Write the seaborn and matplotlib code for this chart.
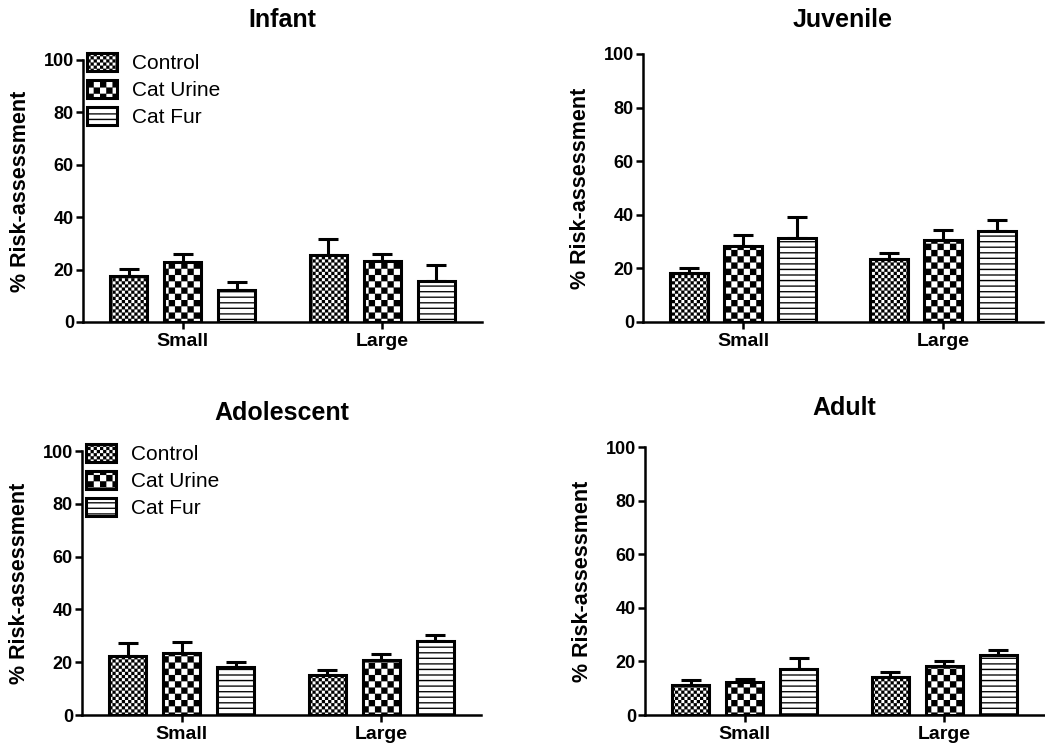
import warnings
import numpy as np
import pandas as pd
import matplotlib
matplotlib.use("Agg")
import matplotlib.pyplot as plt
import matplotlib.hatch as mhatch
from matplotlib.path import Path
import seaborn as sns

warnings.filterwarnings("ignore")

# ---------------------------------------------------------------- data
sizes = ["Small", "Large"]
treatments = ["Control", "Cat Urine", "Cat Fur"]

# rows: Control, Cat Urine, Cat Fur ; columns: Small, Large
infant_mean = [[17.6, 25.5], [22.8, 23.3], [12.4, 15.5]]
infant_sem = [[2.7, 6.3], [3.0, 2.7], [3.0, 6.4]]

juvenile_mean = [[18.2, 23.4], [28.2, 30.5], [31.2, 33.8]]
juvenile_sem = [[2.1, 2.2], [4.4, 4.0], [7.8, 4.1]]

adolescent_mean = [[22.4, 15.0], [23.6, 20.8], [18.3, 28.1]]
adolescent_sem = [[4.8, 2.1], [4.0, 2.4], [1.8, 2.2]]

adult_mean = [[11.3, 14.0], [12.5, 18.1], [17.3, 22.4]]
adult_sem = [[1.8, 2.0], [1.1, 2.1], [3.9, 2.0]]


# ---------------------------------------------------------------- fill patterns
class TileHatch(mhatch.HatchPatternBase):
    """Filled tile hatches: 'c' fine checkerboard, 'k' coarse checkerboard,
    'h' thin horizontal stripes."""

    def __init__(self, hatch, density):
        rects = []
        for ch, n in (("c", 32), ("k", 16)):
            if ch in hatch:
                for i in range(n):
                    for j in range(n):
                        if (i + j) % 2 == 0:
                            rects.append((i / n, j / n, (i + 1) / n, (j + 1) / n))
        if "h" in hatch:
            n, t = 18, 0.012
            for j in range(n):
                y = (j + 0.5) / n
                rects.append((0.0, y - t / 2, 1.0, y + t / 2))
        self.rects = rects
        self.num_vertices = 5 * len(rects)

    def set_vertices_and_codes(self, vertices, codes):
        for k, (x0, y0, x1, y1) in enumerate(self.rects):
            vertices[5 * k:5 * k + 5] = [(x0, y0), (x1, y0), (x1, y1), (x0, y1), (x0, y0)]
            codes[5 * k:5 * k + 5] = [Path.MOVETO, Path.LINETO, Path.LINETO,
                                      Path.LINETO, Path.CLOSEPOLY]


mhatch._hatch_types.append(TileHatch)
hatches = ["c", "k", "h"]

# ---------------------------------------------------------------- style
sns.set_style("ticks", rc={
    "text.color": "black",
    "axes.labelcolor": "black",
    "axes.edgecolor": "black",
    "xtick.color": "black",
    "ytick.color": "black",
})
plt.rcParams["font.family"] = ["Liberation Sans", "DejaVu Sans"]
plt.rcParams["hatch.linewidth"] = 0.1
plt.rcParams["hatch.color"] = "black"

fig = plt.figure(figsize=(10.45, 7.51), dpi=100)

W, H = 1045, 751


def px_axes(x0, x1, ytop, ybot):
    return fig.add_axes([x0 / W, 1 - ybot / H, (x1 - x0) / W, (ybot - ytop) / H])


LW = 2.2


def draw_panel(ax, title, means, sems, title_pad, show_legend):
    df = pd.DataFrame({
        "Size": np.tile(sizes, len(treatments)),
        "Treatment": np.repeat(treatments, len(sizes)),
        "Value": np.ravel(means),
    })
    sns.barplot(data=df, x="Size", y="Value", hue="Treatment",
                order=sizes, hue_order=treatments,
                palette=["white"] * 3, saturation=1, errorbar=None,
                width=0.81, gap=0.31, edgecolor="black", linewidth=LW,
                legend=False, ax=ax)
    bar_sets = list(ax.containers)
    for cont, hatch, sem in zip(bar_sets, hatches, sems):
        xs = [b.get_x() + b.get_width() / 2 for b in cont]
        tops = [b.get_height() for b in cont]
        for b in cont:
            b.set_hatch(hatch)
            b.set_zorder(2)
        ax.errorbar(xs, tops, yerr=[np.zeros(len(sem)), sem], fmt="none",
                    ecolor="black", elinewidth=LW, capsize=7.2, capthick=LW,
                    zorder=1)

    ax.set_xlim(-0.5, 1.5)
    ax.set_ylim(0, 100)
    ax.set_yticks(range(0, 101, 20))
    sns.despine(ax=ax)
    for s in ("left", "bottom"):
        ax.spines[s].set_linewidth(1.8)
    ax.tick_params(axis="both", width=1.8, length=5, direction="out")
    ax.tick_params(axis="y", labelsize=13, pad=1.5)
    ax.tick_params(axis="x", labelsize=14, pad=3)
    for lab in ax.get_xticklabels() + ax.get_yticklabels():
        lab.set_fontweight("bold")
    ax.set_xlabel("")
    ax.set_ylabel("% Risk-assessment", fontsize=15.5, fontweight="bold")
    ax.yaxis.set_label_coords(-0.13, 0.5)
    ax.set_title(title, fontsize=18, fontweight="bold", pad=title_pad)

    if show_legend:
        ax.legend(handles=[c.patches[0] for c in bar_sets], labels=treatments,
                  loc="upper left", bbox_to_anchor=(0.01, 1.025), frameon=False,
                  fontsize=15, handlelength=1.45, handleheight=0.9,
                  handletextpad=0.7, labelspacing=0.34, borderpad=0,
                  borderaxespad=0)


ax1 = px_axes(83, 482, 60, 322)
ax2 = px_axes(643, 1043, 54, 322)
ax3 = px_axes(82, 481, 451, 715)
ax4 = px_axes(645, 1044, 447, 715)

draw_panel(ax1, "Infant", infant_mean, infant_sem, 24, True)
draw_panel(ax2, "Juvenile", juvenile_mean, juvenile_sem, 19.5, False)
draw_panel(ax3, "Adolescent", adolescent_mean, adolescent_sem, 22, True)
draw_panel(ax4, "Adult", adult_mean, adult_sem, 23, False)

fig.savefig("out.png", dpi=100)
